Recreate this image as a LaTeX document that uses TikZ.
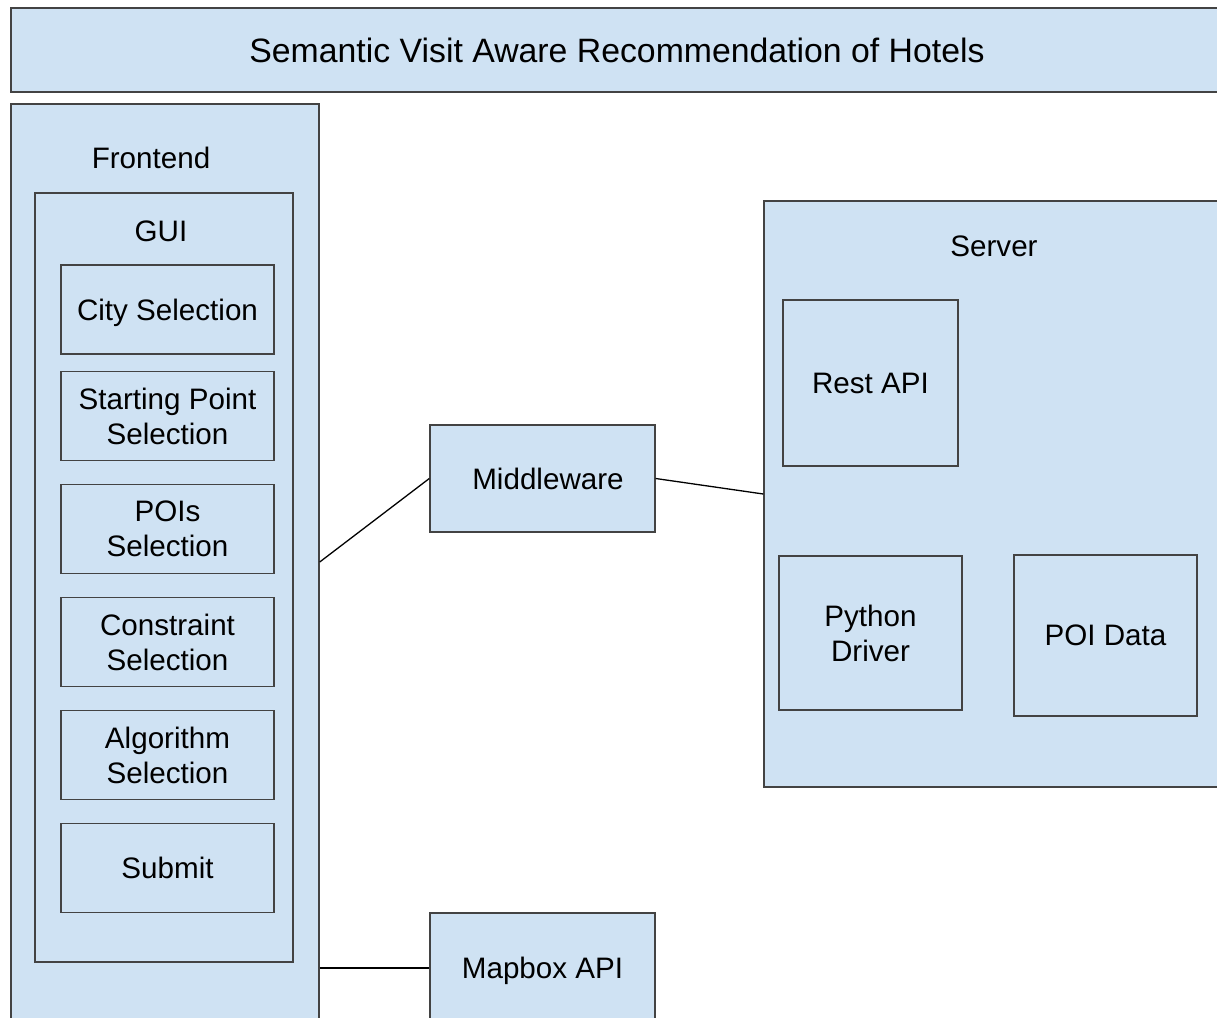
\documentclass[tikz,border=0pt]{standalone}
\usepackage{fontspec}
\setmainfont{Liberation Sans}
\usetikzlibrary{positioning}
\definecolor{boxblue}{HTML}{CFE2F3}
\definecolor{boxline}{HTML}{434343}

\begin{document}
\begin{tikzpicture}[x=1pt, y=-1pt, line width=1.4pt,
   box/.style={rectangle, draw=boxline, fill=boxblue, inner sep=0pt, align=center,
               font=\fontsize{29.6}{35}\selectfont},
   lbl/.style={inner sep=0pt, font=\fontsize{29.6}{35}\selectfont},
   conn/.style={draw=black, line width=1.3pt}]
   \useasboundingbox (0,0) rectangle (1217,1017);
   \clip (0,0) rectangle (1217,1017);
   % title bar
   \node[box, minimum width=1212pt, minimum height=84pt,
         font=\fontsize{33.8}{40}\selectfont] (title) at (617,50)
         {Semantic Visit Aware Recommendation of Hotels};
   % frontend side
   \node[box, minimum width=308pt, minimum height=916pt] (frontend) at (165,562) {};
   \node[lbl] (frontendlbl) at (151,158) {Frontend};
   \node[box, minimum width=258pt, minimum height=769pt] (gui) at (164,577.5) {};
   \node[lbl] (guilbl) at (161,231) {GUI};
   \begin{scope}[every node/.style={box, minimum width=213pt, minimum height=89pt}]
    \node[text depth=0pt] (city) at (167.5,309.5) {City Selection};
    \node (start) at (167.5,416) {Starting Point\\Selection};
    \node (pois) at (167.5,529) {POIs\\Selection};
    \node (constraint) at (167.5,642) {Constraint\\Selection};
    \node (algorithm) at (167.5,755) {Algorithm\\Selection};
    \node (submit) at (167.5,868) {Submit};
   \end{scope}
   % middle
   \node[box, minimum width=225pt, minimum height=107pt] (middleware) at (542.5,478.5) {\hspace*{11pt}Middleware};
   \node[box, minimum width=225pt, minimum height=110pt, text depth=0pt] (mapbox) at (542.5,968) {Mapbox API};
   % server side
   \node[box, minimum width=460pt, minimum height=586pt] (server) at (994,494) {};
   \node[lbl] (serverlbl) at (994,246) {Server};
   \node[box, minimum width=175pt, minimum height=166pt] (rest) at (870.5,383) {Rest API};
   \node[box, minimum width=183pt, minimum height=154pt] (python) at (870.5,633) {Python\\Driver};
   \node[box, minimum width=183pt, minimum height=161pt] (poidata) at (1105.5,635.5) {POI Data};
   % connectors
   \draw[conn] (frontend.east) -- (middleware.west);
   \draw[conn] (middleware.east) -- (server.west);
   \draw[conn] (frontend.east |- mapbox.west) -- (mapbox.west);
\end{tikzpicture}
\end{document}
